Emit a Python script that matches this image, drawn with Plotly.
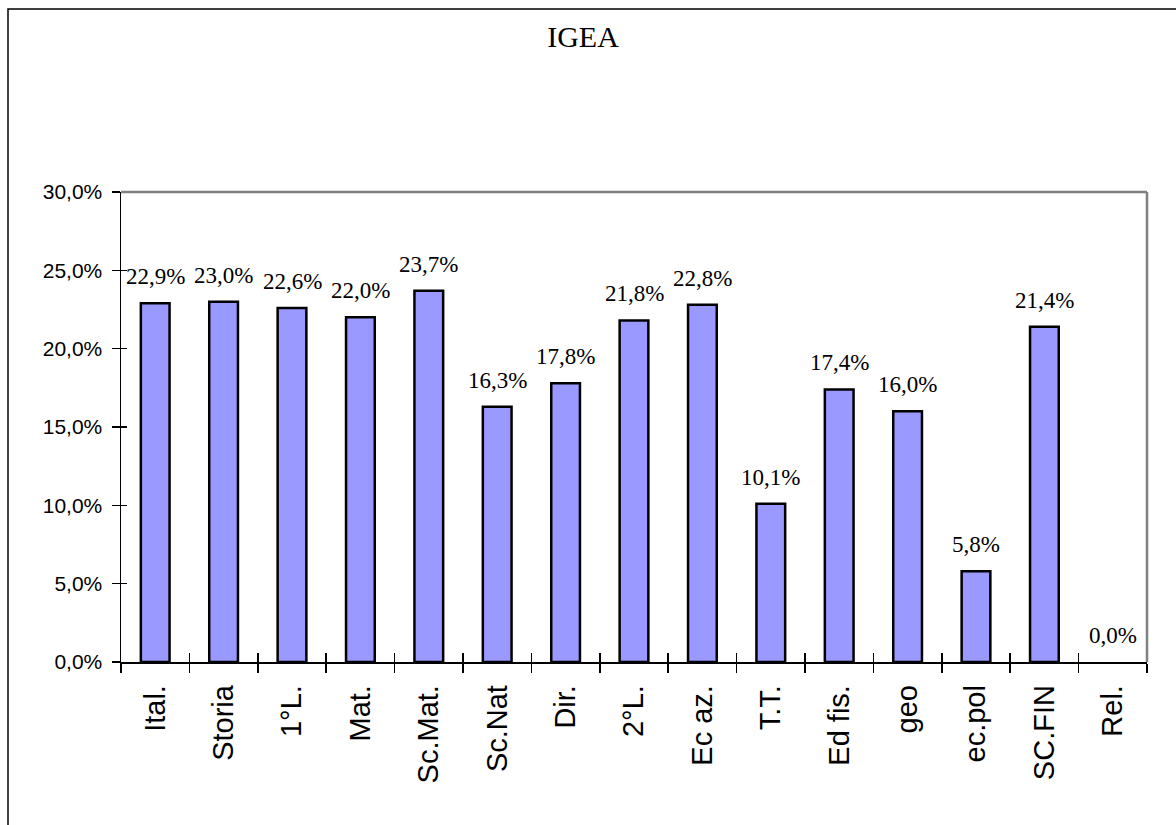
import plotly.graph_objects as go

categories = ["Ital.", "Storia", "1°L.", "Mat.", "Sc.Mat.", "Sc.Nat", "Dir.", "2°L.",
              "Ec az.", "T.T.", "Ed fis.", "geo", "ec.pol", "SC.FIN", "Rel."]
values = [22.9, 23.0, 22.6, 22.0, 23.7, 16.3, 17.8, 21.8, 22.8, 10.1, 17.4, 16.0, 5.8, 21.4, 0.0]
ytick_vals = [0, 5, 10, 15, 20, 25, 30]
ytick_text = ["0,0%", "5,0%", "10,0%", "15,0%", "20,0%", "25,0%", "30,0%"]
title_text = "IGEA"

W, H = 1176, 825
L, R, T, B = 121, 1147, 192, 662
pw, ph = R - L, B - T
SERIF = "Times New Roman, Liberation Serif, serif"
SANS = "Arial, Liberation Sans, sans-serif"

def px_x(x):
    return (x - L) / pw

def px_y(y):
    return (B - y) / ph

fig = go.Figure()
fig.add_trace(go.Bar(
    x=categories, y=values,
    marker=dict(color="#9999FF",
                line=dict(color="black", width=[2.5 if v > 0 else 0 for v in values])),
    width=0.42,
    hoverinfo="skip",
))

for c, v in zip(categories, values):
    fig.add_annotation(
        x=c, y=v, text=f"{v:.1f}".replace(".", ",") + "%",
        showarrow=False, yanchor="bottom", yshift=12,
        font=dict(family=SERIF, size=23, color="black"),
    )

fig.update_layout(
    width=W, height=H,
    margin=dict(l=L, r=W - R, t=T, b=H - B, pad=0),
    paper_bgcolor="white", plot_bgcolor="white",
    showlegend=False,
    title=dict(text=title_text, x=583 / W, xref="container", xanchor="center",
               y=1 - 36 / H, yref="container", yanchor="middle",
               font=dict(family=SERIF, size=30, color="black")),
    xaxis=dict(
        type="category", tickson="boundaries", ticks="outside", ticklen=9,
        tickcolor="black", tickwidth=1.5,
        showline=True, linecolor="black", linewidth=1.5,
        tickangle=-90, showgrid=False, zeroline=False,
        tickfont=dict(family=SANS, size=29, color="black"),
        ticklabelstandoff=10,
        range=[-0.5, 14.5], fixedrange=True,
    ),
    xaxis2=dict(
        overlaying="x", anchor="y", range=[-0.5, 14.5],
        tickvals=[i - 0.5 for i in range(16)], ticks="inside", ticklen=9,
        tickcolor="black", tickwidth=1.5, showticklabels=False,
        showline=False, showgrid=False, zeroline=False,
    ),
    yaxis=dict(
        range=[0, 30], tickvals=ytick_vals, ticktext=ytick_text,
        ticks="outside", ticklen=8, tickcolor="black", tickwidth=1.5,
        showline=True, linecolor="black", linewidth=1.5,
        showgrid=False, zeroline=False,
        tickfont=dict(family=SANS, size=21, color="black"),
        ticklabelstandoff=5,
    ),
    yaxis2=dict(
        overlaying="y", anchor="x", side="left", range=[0, 30],
        tickvals=ytick_vals, ticks="inside", ticklen=6, tickcolor="black",
        tickwidth=1.5, showticklabels=False, showline=False, showgrid=False,
        zeroline=False,
    ),
)

# invisible trace to activate the secondary axes
fig.add_trace(go.Scatter(x=[0], y=[0], xaxis="x2", yaxis="y2", mode="markers",
                         marker=dict(opacity=0), hoverinfo="skip", showlegend=False))

# gray top and right border of plot area
fig.add_shape(type="line", xref="paper", yref="paper", x0=0, x1=1, y0=1, y1=1,
              line=dict(color="#808080", width=2.5))
fig.add_shape(type="line", xref="paper", yref="paper", x0=1, x1=1, y0=0, y1=1,
              line=dict(color="#808080", width=2.5))
# outer frame (extends past right and bottom edges)
fig.add_shape(type="rect", xref="paper", yref="paper",
              x0=px_x(8), x1=px_x(W + 20), y0=px_y(H + 20), y1=px_y(9),
              line=dict(color="black", width=1.5), layer="below")

fig.write_html("out.html", config={"displayModeBar": False, "staticPlot": True},
               post_script="document.body.style.margin='0';document.body.style.overflow='hidden';")
